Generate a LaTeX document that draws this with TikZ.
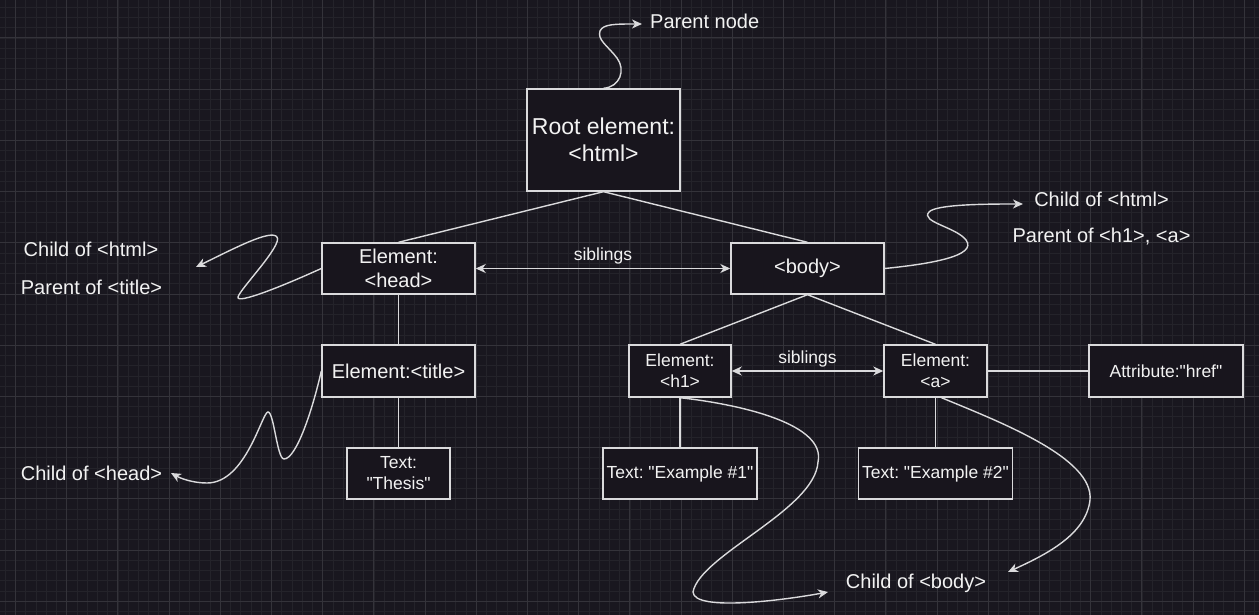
\documentclass[tikz,border=0pt]{standalone}
\usepackage{fontspec}
\setmainfont{Liberation Sans}[Ligatures=TeXOff]
\usepackage{tikz}
\usetikzlibrary{arrows.meta, positioning}
\definecolor{canvas}{RGB}{25, 23, 31}
\definecolor{boxfill}{RGB}{24, 21, 29}
\definecolor{gridlo}{RGB}{36, 35, 42}
\definecolor{gridhi}{RGB}{52, 51, 58}
\definecolor{edgecol}{RGB}{218, 218, 220}
\definecolor{ink}{RGB}{242, 242, 242}
\frenchspacing

\begin{document}
\begin{tikzpicture}[
  x=1pt, y=-1pt,
  gminor/.style={gridlo, line width=0.8pt},
  gmajor/.style={gridhi, line width=1pt},
  el/.style={draw=edgecol, fill=boxfill, line width=1.4pt, text=ink, align=center,
             inner sep=0pt, font=\fontsize{20}{24}\selectfont},
  sm/.style={el, font=\fontsize{17.5}{21}\selectfont},
  lbl/.style={text=ink, inner sep=0pt, font=\fontsize{20}{24}\selectfont},
  slbl/.style={text=ink, font=\fontsize{17.5}{21}\selectfont},
  link/.style={edgecol, line width=1.4pt},
  sib/.style={link, {Stealth[length=10pt, width=9pt, inset=3pt]}-{Stealth[length=10pt, width=9pt, inset=3pt]}},
  curvy/.style={link, -{Stealth[length=10pt, width=9pt, inset=3pt]}},
]
  \fill[canvas] (0,0) rectangle (1259,615);
  \useasboundingbox (0,0) rectangle (1259,615);
  \foreach \k in {-1,...,122} \draw[gminor] ({15.5+10.24*\k},0) -- ++(0,615);
  \foreach \k in {-3,...,56} \draw[gminor] (0,{38+10.24*\k}) -- ++(1259,0);
  \foreach \k in {0,...,24} \draw[gmajor] ({15.5+51.2*\k},0) -- ++(0,615);
  \foreach \k in {0,...,11} \draw[gmajor] (0,{38+51.2*\k}) -- ++(1259,0);

  \node[el, font=\fontsize{23}{27}\selectfont, minimum width=153pt, minimum height=102pt] (root) at (603.5,140) {Root element:\\<html>};
  \node[el, minimum width=153pt, minimum height=51pt] (head) at (398.5,268.5) {Element:\\<head>};
  \node[el, minimum width=153pt, minimum height=51pt] (body) at (807.5,268.5) {<body>};
  \node[el, minimum width=153pt, minimum height=52pt] (title) at (398.5,371) {Element:<title>};
  \node[sm, minimum width=103pt, minimum height=51pt] (thesis) at (398.5,473.5) {Text:\\"Thesis"};
  \node[sm, minimum width=102pt, minimum height=52pt] (h1) at (680,371) {Element:\\<h1>};
  \node[sm, minimum width=154pt, minimum height=51pt] (ex1) at (680,473.5) {Text: "Example \#1"};
  \node[sm, minimum width=103pt, minimum height=52pt] (a) at (935.5,371) {Element:\\<a>};
  \node[sm, minimum width=154pt, minimum height=52pt] (href) at (1166,371) {Attribute:"href"};
  \node[sm, minimum width=154pt, minimum height=51pt] (ex2) at (935.5,473.5) {Text: "Example \#2"};

  \node[lbl, anchor=west] (lparent) at (650,21) {Parent node};
  \node[lbl] (lhtmlL) at (91,249) {Child of <html>};
  \node[lbl] (ltitleP) at (91.5,287) {Parent of <title>};
  \node[lbl] (lhtmlR) at (1101.5,199) {Child of <html>};
  \node[lbl] (lbodyP) at (1101.5,237) {Parent of <h1>, <a>};
  \node[lbl] (lhead) at (91.5,473) {Child of <head>};
  \node[lbl] (lbody) at (916,583) {Child of <body>};

  \coordinate (tipRoot) at (642,24);
  \coordinate (tipHead) at (196,267);
  \coordinate (tipBody) at (1023,204);
  \coordinate (tipTitle) at (171,473);
  \coordinate (tipH1) at (828,592);
  \coordinate (tipA) at (1008,572);

  \draw[link] (root.south) -- (head.north);
  \draw[link] (root.south) -- (body.north);
  \draw[link] (head) -- (title);
  \draw[link] (title) -- (thesis);
  \draw[link] (body.south) -- (h1.north);
  \draw[link] (body.south) -- (a.north);
  \draw[link] (h1) -- (ex1);
  \draw[link] (a) -- (ex2);
  \draw[link] (a) -- (href);
  \draw[sib] (head) -- node[slbl, above] (sib1) {siblings} (body);
  \draw[sib] (h1) -- node[slbl, above] (sib2) {siblings} (a);

  \draw[curvy] (root.north) .. controls (620,87) and (626,70) .. (617,58)
    .. controls (608,46) and (597,40) .. (600,31)
    .. controls (603,24) and (615,24) .. (tipRoot);
  \draw[curvy] (head.west) .. controls (285,285) and (236,305) .. (238,297)
    .. controls (240,289) and (283,245) .. (277,237)
    .. controls (271,229) and (235,248) .. (tipHead);
  \draw[curvy] (body.east) .. controls (930,264) and (978,256) .. (966,240)
    .. controls (956,227) and (920,222) .. (929,212)
    .. controls (936,204) and (990,204) .. (tipBody);
  \draw[curvy] (title.west) .. controls (312,412) and (296,459) .. (284,459)
    .. controls (277,459) and (274,412) .. (268,412)
    .. controls (262,412) and (246,483) .. (207,483)
    .. controls (192,483) and (180,478) .. (tipTitle);
  \draw[curvy] (h1.south) .. controls (745,405) and (826,425) .. (818,462)
    .. controls (815,510) and (700,555) .. (693,592)
    .. controls (694,612) and (785,600) .. (tipH1);
  \draw[curvy] ([xshift=6pt]a.south) .. controls (1000,422) and (1094,458) .. (1090,500)
    .. controls (1086,535) and (1045,555) .. (tipA);
\end{tikzpicture}
\end{document}
